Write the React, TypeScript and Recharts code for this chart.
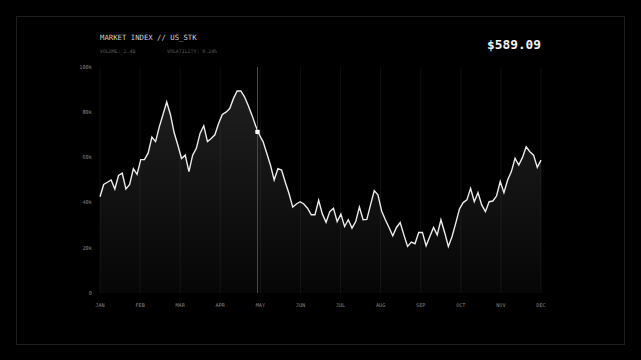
import { Area, AreaChart, CartesianGrid, ReferenceDot, ReferenceLine, XAxis, YAxis } from "recharts";

// index values, in thousands
const INDEX_VALUES = [
  42.6, 48, 49, 50, 46, 52, 53, 46, 48, 55, 52.5, 59, 59, 62, 69, 67, 73.5, 79, 84.5, 79,
  71, 65.5, 59.5, 61, 53.7, 61, 64, 70.6, 74, 67, 68.4, 70, 75, 79, 80, 81.6, 86, 89.4, 89.4, 86.8,
  83, 78.7, 74, 70, 67, 61.8, 56.6, 50, 55, 54.4, 49, 44, 38, 39.4, 40.4, 39.4, 37.5, 34.6, 34.6, 41,
  35, 31.3, 36, 37.5, 31.6, 34.9, 29.4, 32.4, 28.7, 31.6, 38, 32.4, 32.6, 39, 45.3, 43.4, 36.3, 32.4, 29, 25.3,
  29, 31.2, 25.7, 20.6, 22.5, 21.8, 26.8, 26.8, 20.9, 25, 29, 25.7, 32.4, 26.8, 20.6, 25, 30.9, 37.2, 40, 41.2,
  46.3, 40.4, 44.4, 39, 36, 40.4, 40.7, 42.9, 49.3, 44.4, 50, 53.7, 59.6, 56.6, 60, 64.7, 62.5, 61, 55.6, 58.8
];

const MONTHS = ["JAN", "FEB", "MAR", "APR", "MAY", "JUN", "JUL", "AUG", "SEP", "OCT", "NOV", "DEC"];
const Y_TICKS = [0, 20, 40, 60, 80, 100];

const CURSOR_INDEX = 42.5;
const CURSOR_VALUE = 71.3;

const TITLE = "MARKET INDEX // US_STK";
const VOLUME = "VOLUME: 2.4B";
const VOLATILITY = "VOLATILITY: 0.24%";
const PRICE = "$589.09";

const MONO = "'DejaVu Sans Mono', 'Liberation Mono', monospace";

// small square marker where the cursor meets the line
function CursorMarker(props: { cx?: number; cy?: number }) {
  const { cx = 0, cy = 0 } = props;
  return <rect x={cx - 2.2} y={cy - 2.2} width={4.4} height={4.4} rx={0.8} fill="#ffffff" />;
}

export default function App() {
  const data = INDEX_VALUES.map((v, i) => ({ i, v }));
  const last = INDEX_VALUES.length - 1;
  const monthTicks = MONTHS.map((_, k) => (k * last) / (MONTHS.length - 1));

  const monthLabel = (x: number) => {
    const k = Math.round((x * (MONTHS.length - 1)) / last);
    return MONTHS[k] ?? "";
  };

  return (
    <div
      style={{
        position: "fixed",
        left: 0,
        top: 0,
        width: 641,
        height: 360,
        background: "#000",
        overflow: "hidden",
        fontFamily: MONO
      }}
    >
      <div
        style={{
          position: "absolute",
          left: 16,
          top: 16,
          width: 607,
          height: 327,
          border: "1px solid #1e1e1e"
        }}
      />
      <div style={{ position: "absolute", left: 100, top: 34, fontSize: 7.3, color: "#d2d2d2", lineHeight: 1 }}>
        {TITLE}
      </div>
      <div style={{ position: "absolute", left: 100, top: 49, fontSize: 4.9, color: "#5a5a5a", lineHeight: 1 }}>
        {VOLUME}
      </div>
      <div style={{ position: "absolute", left: 167, top: 49, fontSize: 4.9, color: "#5a5a5a", lineHeight: 1 }}>
        {VOLATILITY}
      </div>
      <div
        style={{
          position: "absolute",
          right: 100,
          top: 39,
          fontSize: 12.8,
          fontWeight: "bold",
          color: "#f2f2f2",
          lineHeight: 1
        }}
      >
        {PRICE}
      </div>

      <div style={{ position: "absolute", left: 0, top: 0 }}>
        <AreaChart width={641} height={360} data={data} margin={{ top: 67, right: 100, bottom: 37, left: 80 }}>
          <defs>
            <linearGradient id="indexFill" x1="0" y1="0" x2="0" y2="1">
              <stop offset="0%" stopColor="#ffffff" stopOpacity={0.2} />
              <stop offset="100%" stopColor="#ffffff" stopOpacity={0.04} />
            </linearGradient>
          </defs>
          <CartesianGrid stroke="#0e0e0e" horizontal={false} vertical />
          <XAxis
            dataKey="i"
            type="number"
            domain={[0, last]}
            ticks={monthTicks}
            tickFormatter={monthLabel}
            axisLine={false}
            tickLine={false}
            tickMargin={4}
            height={30}
            interval={0}
            tick={{ fill: "#808080", fontSize: 5.2, fontFamily: MONO }}
          />
          <YAxis
            domain={[0, 100]}
            ticks={Y_TICKS}
            tickFormatter={(v: number) => (v === 0 ? "0" : `${v}k`)}
            axisLine={false}
            tickLine={false}
            width={20}
            tick={{ fill: "#808080", fontSize: 5.3, fontFamily: MONO }}
          />
          <Area
            type="linear"
            dataKey="v"
            stroke="#ececec"
            strokeWidth={1.4}
            fill="url(#indexFill)"
            isAnimationActive={false}
            dot={false}
            activeDot={false}
          />
          <ReferenceLine x={CURSOR_INDEX} stroke="#4a4a4a" strokeWidth={1} />
          <ReferenceDot x={CURSOR_INDEX} y={CURSOR_VALUE} r={2.2} shape={<CursorMarker />} />
        </AreaChart>
      </div>
    </div>
  );
}
